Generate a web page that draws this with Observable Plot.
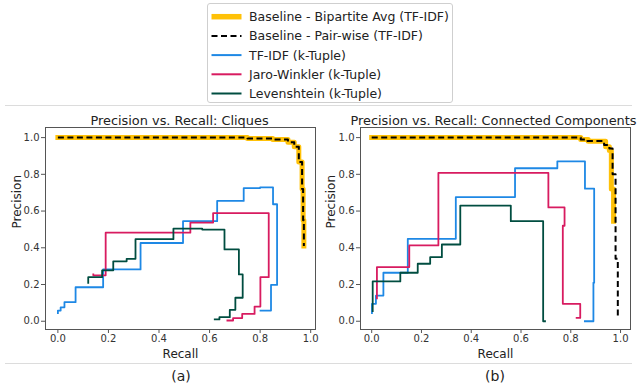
<!DOCTYPE html>
<html>
<head>
<meta charset="utf-8">
<script src="https://cdn.jsdelivr.net/npm/d3@7"></script>
<script src="https://cdn.jsdelivr.net/npm/@observablehq/plot@0.6"></script>
<style>
  html, body { margin: 0; padding: 0; background: #fff; }
  body { font-family: "DejaVu Sans", sans-serif; color: #222; }
  #root { position: relative; width: 637px; height: 391px; overflow: hidden; background: #fff; }
  .sep { position: absolute; height: 1px; background: #dcdcdc; }
  .cap { position: absolute; font-size: 14px; transform: translateX(-50%); white-space: nowrap; color: #222; }
  #legend { position: absolute; left: 207px; top: 3px; width: 246px; height: 100px; border: 1px solid #cfcfcf; border-radius: 3px; background: #fff; box-sizing: border-box; }
</style>
</head>
<body>
<div id="root"></div>
<script>
// ---------- labels ----------
const seriesNames = [
  "Baseline - Bipartite Avg (TF-IDF)",
  "Baseline - Pair-wise (TF-IDF)",
  "TF-IDF (k-Tuple)",
  "Jaro-Winkler (k-Tuple)",
  "Levenshtein (k-Tuple)"
];
const panelTitles = ["Precision vs. Recall: Cliques", "Precision vs. Recall: Connected Components"];
const panelCaptions = ["(a)", "(b)"];
const xLabel = "Recall";
const yLabel = "Precision";
const recallTicks = [0, 0.2, 0.4, 0.6, 0.8, 1.0];
const precisionTicks = [0, 0.2, 0.4, 0.6, 0.8, 1.0];

// ---------- (a) Cliques ----------
const cliquesBipartiteRecall    = [0, 0.75, 0.75, 0.85, 0.85, 0.91, 0.91, 0.935, 0.935, 0.953, 0.953, 0.966, 0.966, 0.97, 0.97, 0.973, 0.973];
const cliquesBipartitePrecision = [1.0, 1.0, 0.995, 0.995, 0.99, 0.99, 0.975, 0.975, 0.95, 0.95, 0.867, 0.867, 0.72, 0.72, 0.55, 0.55, 0.41];
const cliquesPairwiseRecall     = [0, 0.75, 0.75, 0.85, 0.85, 0.91, 0.91, 0.935, 0.935, 0.953, 0.953, 0.966, 0.966, 0.97, 0.97, 0.973, 0.973];
const cliquesPairwisePrecision  = [1.0, 1.0, 0.995, 0.995, 0.99, 0.99, 0.975, 0.975, 0.95, 0.95, 0.867, 0.867, 0.72, 0.72, 0.55, 0.55, 0.41];
const cliquesTfidfRecall    = [0, 0, 0.011, 0.011, 0.026, 0.026, 0.07, 0.07, 0.179, 0.179, 0.327, 0.327, 0.495, 0.495, 0.63, 0.63, 0.735, 0.735, 0.80, 0.80, 0.851, 0.851, 0.867, 0.867, 0.843, 0.843, 0.798];
const cliquesTfidfPrecision = [0.04, 0.058, 0.058, 0.076, 0.076, 0.104, 0.104, 0.185, 0.185, 0.282, 0.282, 0.426, 0.426, 0.545, 0.545, 0.655, 0.655, 0.725, 0.725, 0.729, 0.729, 0.637, 0.637, 0.198, 0.198, 0.058, 0.058];
const cliquesJaroRecall    = [0.14, 0.14, 0.189, 0.189, 0.524, 0.524, 0.614, 0.614, 0.834, 0.834, 0.801, 0.801, 0.778, 0.778, 0.729, 0.729, 0.693, 0.693, 0.667];
const cliquesJaroPrecision = [0.26, 0.25, 0.25, 0.482, 0.482, 0.537, 0.537, 0.589, 0.589, 0.24, 0.24, 0.08, 0.08, 0.04, 0.04, 0.017, 0.017, 0.004, 0.004];
const cliquesLevRecall    = [0.12, 0.12, 0.175, 0.175, 0.219, 0.219, 0.272, 0.272, 0.307, 0.307, 0.457, 0.457, 0.571, 0.571, 0.659, 0.659, 0.716, 0.716, 0.731, 0.731, 0.702, 0.702, 0.68, 0.68, 0.639, 0.639, 0.617];
const cliquesLevPrecision = [0.204, 0.24, 0.24, 0.277, 0.277, 0.326, 0.326, 0.34, 0.34, 0.447, 0.447, 0.504, 0.504, 0.499, 0.499, 0.391, 0.391, 0.255, 0.255, 0.128, 0.128, 0.062, 0.062, 0.022, 0.022, 0.01, 0.01];

// ---------- (b) Connected Components ----------
const compBipartiteRecall    = [0, 0.84, 0.84, 0.87, 0.87, 0.94, 0.94, 0.955, 0.955, 0.963, 0.963, 0.972, 0.972];
const compBipartitePrecision = [1.0, 1.0, 0.99, 0.99, 0.98, 0.98, 0.95, 0.95, 0.93, 0.93, 0.72, 0.72, 0.545];
const compPairwiseRecall     = [0, 0.84, 0.84, 0.867, 0.867, 0.934, 0.934, 0.955, 0.955, 0.968, 0.968, 0.98, 0.98, 0.989, 0.989];
const compPairwisePrecision  = [1.0, 1.0, 0.99, 0.99, 0.982, 0.982, 0.96, 0.96, 0.94, 0.94, 0.80, 0.80, 0.34, 0.34, 0.02];
const compTfidfRecall    = [0.001, 0.001, 0.017, 0.017, 0.047, 0.047, 0.145, 0.145, 0.338, 0.338, 0.576, 0.576, 0.746, 0.746, 0.857, 0.857, 0.894, 0.894, 0.891, 0.891, 0.853];
const compTfidfPrecision = [0.04, 0.095, 0.095, 0.14, 0.14, 0.264, 0.264, 0.449, 0.449, 0.676, 0.676, 0.833, 0.833, 0.871, 0.871, 0.722, 0.722, 0.21, 0.21, 0.0, 0.0];
const compJaroRecall    = [0.021, 0.021, 0.151, 0.151, 0.268, 0.268, 0.71, 0.71, 0.775, 0.775, 0.768, 0.768, 0.838, 0.838, 0.82];
const compJaroPrecision = [0.12, 0.295, 0.295, 0.413, 0.413, 0.808, 0.808, 0.62, 0.62, 0.52, 0.52, 0.095, 0.095, 0.018, 0.018];
const compLevRecall    = [0.004, 0.004, 0.115, 0.115, 0.185, 0.185, 0.235, 0.235, 0.282, 0.282, 0.356, 0.356, 0.559, 0.559, 0.689, 0.689, 0.70];
const compLevPrecision = [0.05, 0.217, 0.217, 0.264, 0.264, 0.313, 0.313, 0.349, 0.349, 0.418, 0.418, 0.63, 0.63, 0.545, 0.545, 0.0, 0.0];

// ---------- styles ----------
const seriesColors = ["#FFC107", "#000000", "#1E88E5", "#D81B60", "#004D40"];
const seriesWidths = [5, 2, 1.8, 1.8, 1.8];
const seriesDashes = [null, "6,3.5", null, null, null];

const root = document.getElementById("root");

function addDiv(cls, style, text) {
  const d = document.createElement("div");
  d.className = cls;
  Object.assign(d.style, style);
  if (text != null) d.textContent = text;
  root.appendChild(d);
  return d;
}

// separator lines
addDiv("sep", {left: "5px", width: "627px", top: "105px"});
addDiv("sep", {left: "5px", width: "627px", top: "363px"});

// legend
const legend = addDiv("", {}, null);
legend.id = "legend";
const lsvg = d3.select(legend).append("svg").attr("width", 244).attr("height", 98)
  .style("position", "absolute").style("left", "0px").style("top", "0px");
seriesNames.forEach((name, i) => {
  const y = 12.7 + i * 19.2;
  lsvg.append("line").attr("x1", 3.5).attr("x2", 33.5).attr("y1", y).attr("y2", y)
    .attr("stroke", seriesColors[i]).attr("stroke-width", seriesWidths[i] === 5 ? 5.5 : 2)
    .attr("stroke-dasharray", seriesDashes[i]);
  lsvg.append("text").attr("x", 41).attr("y", y).attr("dy", "0.36em")
    .attr("font-family", "DejaVu Sans").attr("font-size", 12.5).attr("fill", "#222").text(name);
});

function panel(recalls, precisions, title, opts) {
  const lines = recalls.map((rs, k) => {
    const rows = rs.map((r, i) => ({r, p: precisions[k][i]}));
    return Plot.line(rows, {
      x: "r", y: "p",
      stroke: seriesColors[k],
      strokeWidth: seriesWidths[k],
      strokeDasharray: seriesDashes[k],
      strokeLinejoin: "round",
      strokeLinecap: k === 0 ? "square" : "butt"
    });
  });
  return Plot.plot({
    width: opts.width, height: 250,
    marginLeft: opts.marginLeft, marginRight: opts.marginRight, marginTop: 20, marginBottom: 28,
    style: {fontFamily: "DejaVu Sans", fontSize: "10px", color: "#333", background: "transparent", overflow: "visible"},
    x: {domain: opts.xDomain},
    y: {domain: [-0.045, 1.055]},
    marks: [
      ...lines,
      Plot.frame({stroke: "#555", strokeWidth: 1}),
      Plot.axisX({ticks: recallTicks, tickFormat: d3.format(".1f"), tickSize: 4, tickPadding: 1, label: null, fontSize: 10, stroke: "#555"}),
      Plot.axisY({ticks: precisionTicks, tickFormat: d3.format(".1f"), tickSize: 4, tickPadding: 2, label: null, fontSize: 10, stroke: "#555"}),
      Plot.text([xLabel], {text: d => d, frameAnchor: "bottom", lineAnchor: "middle", dy: 25, fontSize: 12, fill: "#222"}),
      Plot.text([yLabel], {text: d => d, frameAnchor: "left", lineAnchor: "middle", rotate: -90, dx: opts.yLabelDx, fontSize: 12, fill: "#222"}),
      Plot.text([title], {text: d => d, frameAnchor: "top", lineAnchor: "bottom", dy: -3, dx: opts.titleDx, fontSize: 12.9, fill: "#222"})
    ]
  });
}

const left = panel(
  [cliquesBipartiteRecall, cliquesPairwiseRecall, cliquesTfidfRecall, cliquesJaroRecall, cliquesLevRecall],
  [cliquesBipartitePrecision, cliquesPairwisePrecision, cliquesTfidfPrecision, cliquesJaroPrecision, cliquesLevPrecision],
  panelTitles[0],
  {width: 318, marginLeft: 45, marginRight: 3, xDomain: [-0.049, 1.019], yLabelDx: -28, titleDx: -1}
);
left.style.position = "absolute"; left.style.left = "0px"; left.style.top = "107px";
root.appendChild(left);

const right = panel(
  [compBipartiteRecall, compPairwiseRecall, compTfidfRecall, compJaroRecall, compLevRecall],
  [compBipartitePrecision, compPairwisePrecision, compTfidfPrecision, compJaroPrecision, compLevPrecision],
  panelTitles[1],
  {width: 319, marginLeft: 42, marginRight: 7, xDomain: [-0.045, 1.04], yLabelDx: -29, titleDx: -2}
);
right.style.position = "absolute"; right.style.left = "318px"; right.style.top = "107px";
root.appendChild(right);

// captions
addDiv("cap", {left: "181px", top: "368px"}, panelCaptions[0]);
addDiv("cap", {left: "495px", top: "368px"}, panelCaptions[1]);
</script>
</body>
</html>
